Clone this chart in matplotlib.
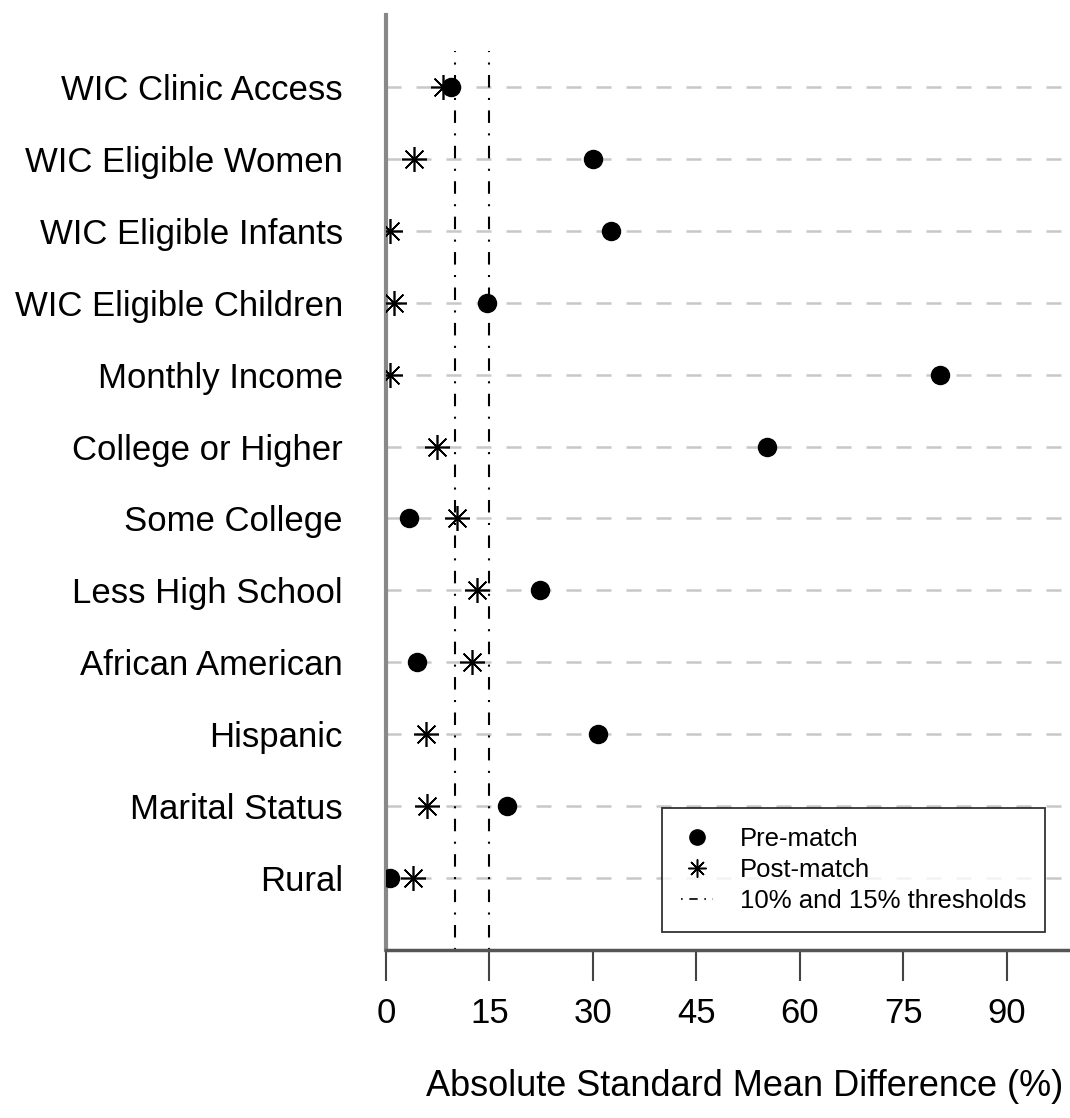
import numpy as np
import matplotlib
matplotlib.use('Agg')
import matplotlib.pyplot as plt
from matplotlib.lines import Line2D

# ── Data ───────────────────────────────────────────────────────────────────────
covariates = ['WIC Clinic Access', 'WIC Eligible Women', 'WIC Eligible Infants',
              'WIC Eligible Children', 'Monthly Income', 'College or Higher',
              'Some College', 'Less High School', 'African American',
              'Hispanic', 'Marital Status', 'Rural']
pre_match  = [9.4, 30.0, 32.7, 14.6, 80.3, 55.2, 3.3, 22.3, 4.5, 30.8, 17.6, 0.6]
post_match = [8.2, 4.0, 0.6, 1.2, 0.6, 7.4, 10.3, 13.2, 12.4, 5.8, 5.9, 3.9]
thresholds = [10, 15]
xticks     = [0, 15, 30, 45, 60, 75, 90]

plt.rcParams['font.family'] = ['Liberation Sans', 'DejaVu Sans']

ypos = np.arange(len(covariates), 0, -1)

fig = plt.figure(figsize=(10.7, 11.18), dpi=100)
ax = fig.add_axes([386 / 1070, 168 / 1118, 684 / 1070, 935 / 1118])

# grey dashed guide lines per covariate
for y in ypos:
    ax.axhline(y, color='#c8c8c8', lw=1.8, dashes=(6, 6), zorder=1)

# threshold lines
for t in thresholds:
    ax.plot([t, t], [0, 12.5], color='black', lw=1.5,
            dashes=(1, 5, 6, 5), zorder=2)

ax.plot(pre_match, ypos, 'o', color='black', ms=13, zorder=3)
ax.plot(post_match, ypos, linestyle='none', marker=(8, 2, 0), color='black',
        ms=18, mew=1.2, zorder=4)

ax.set_xlim(0, 99.2)
ax.set_ylim(0, 13)
ax.set_yticks(ypos)
ax.set_yticklabels(covariates, fontsize=25)
ax.tick_params(axis='y', length=0, pad=31)
ax.set_xticks(xticks)
ax.set_xticklabels([str(v) for v in xticks], fontsize=25)
ax.tick_params(axis='x', length=22, width=1.5, pad=12, color='#444444')

for s in ['top', 'right']:
    ax.spines[s].set_visible(False)
ax.spines['left'].set_color('#888888')
ax.spines['left'].set_linewidth(3)
ax.spines['bottom'].set_color('#555555')
ax.spines['bottom'].set_linewidth(2.5)

ax.text(0.525, -0.146, 'Absolute Standard Mean Difference (%)', fontsize=26,
        ha='center', va='center', transform=ax.transAxes)

handles = [
    Line2D([], [], linestyle='none', marker='o', color='black', ms=11),
    Line2D([], [], linestyle='none', marker=(8, 2, 0), color='black', ms=13, mew=1.1),
    Line2D([], [], color='black', lw=1.2, dashes=(1, 4, 5, 4)),
]
leg = ax.legend(handles, ['Pre-match', 'Post-match', '10% and 15% thresholds'],
                loc='lower right', bbox_to_anchor=(0.9635, 0.019), fontsize=18.5,
                frameon=True, fancybox=False, edgecolor='black',
                handlelength=1.25, borderpad=0.74, labelspacing=0.27,
                handletextpad=1.05, borderaxespad=0)
leg.get_frame().set_linewidth(1.3)

fig.savefig('out.png', dpi=100)
